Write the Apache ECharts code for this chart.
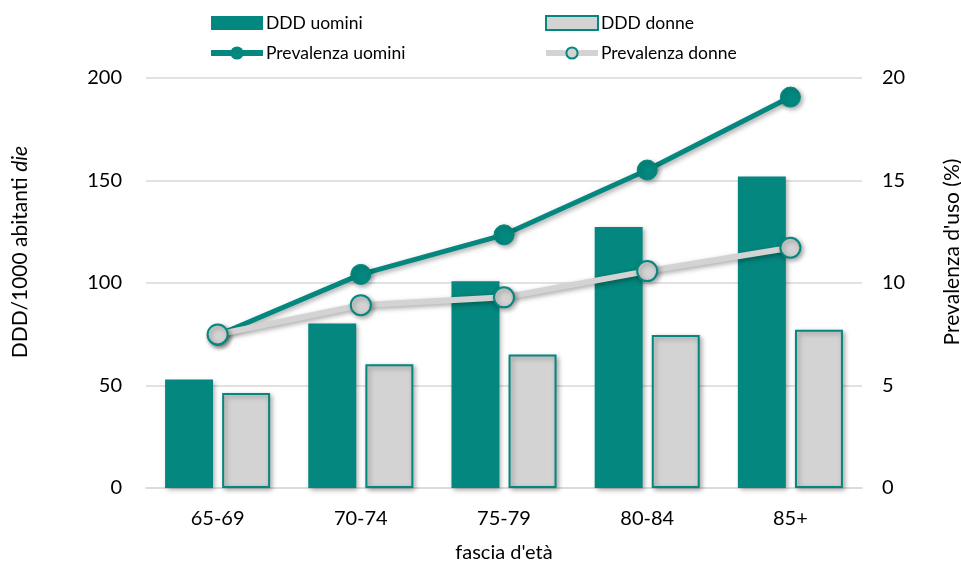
<!DOCTYPE html>
<html>
<head>
<meta charset="utf-8">
<script src="https://cdn.jsdelivr.net/npm/echarts@6/dist/echarts.min.js"></script>
<style>
  html, body { margin: 0; padding: 0; background: #fff; }
  #chart { width: 961px; height: 565px; }
</style>
</head>
<body>
<div id="chart"></div>
<script>
// Age groups
const categories = ['65-69', '70-74', '75-79', '80-84', '85+'];
// DDD per 1000 inhabitants per day
const dddUomini = [52.9, 80.3, 100.8, 127.3, 151.9];
const dddDonne = [46.4, 60.4, 65.1, 74.6, 77.2];
// Prevalence of use (%)
const prevUomini = [7.45, 10.42, 12.35, 15.51, 19.07];
const prevDonne = [7.49, 8.92, 9.30, 10.58, 11.72];
// Axis ticks
const leftTicks = { min: 0, max: 200, interval: 50 };
const rightTicks = { min: 0, max: 20, interval: 5 };

const TEAL = '#03877E';
const GREY = '#D3D3D3';
const FONT = 'Lato';
const shadow = { shadowColor: 'rgba(0,0,0,0.35)', shadowBlur: 5, shadowOffsetX: 2, shadowOffsetY: 2 };

const legendBase = {
  orient: 'vertical', top: 8, itemGap: 10,
  itemWidth: 52, itemHeight: 14,
  lineStyle: { width: 6 },
  textStyle: { fontFamily: FONT, fontSize: 17.5, lineHeight: 20, color: '#000', padding: [0, 0, 0, -2] }
};

const chart = echarts.init(document.getElementById('chart'), null, { renderer: 'canvas' });
chart.setOption({
  animation: false,
  textStyle: { fontFamily: FONT },
  grid: { left: 146, right: 99, top: 78, bottom: 77, containLabel: false, outerBoundsMode: 'none' },
  legend: [
    Object.assign({ data: [{ name: 'DDD uomini', icon: 'rect' }, 'Prevalenza uomini'], left: 203 }, legendBase),
    Object.assign({ data: [{ name: 'DDD donne', icon: 'rect' }, 'Prevalenza donne'], left: 538 }, legendBase)
  ],
  xAxis: {
    type: 'category',
    data: categories,
    name: "fascia d'età",
    nameLocation: 'middle',
    nameGap: 55,
    nameTextStyle: { fontFamily: FONT, fontSize: 20, color: '#000' },
    axisLine: { lineStyle: { color: '#D9D9D9', width: 1.5 } },
    axisTick: { show: false },
    axisLabel: { fontFamily: FONT, fontSize: 20, color: '#000', margin: 21 }
  },
  yAxis: [
    {
      type: 'value',
      min: leftTicks.min, max: leftTicks.max, interval: leftTicks.interval,
      name: '{n|DDD/1000 abitanti }{i|die}',
      nameLocation: 'middle',
      nameRotate: 90,
      nameGap: 115,
      nameTextStyle: {
        padding: [0, 0, 0, 62],
        rich: {
          n: { fontFamily: FONT, fontSize: 21, color: '#000' },
          i: { fontFamily: FONT, fontSize: 21, color: '#000', fontStyle: 'italic' }
        }
      },
      axisLine: { show: false },
      axisTick: { show: false },
      axisLabel: { fontFamily: FONT, fontSize: 20, color: '#000', margin: 24 },
      splitLine: { lineStyle: { color: '#D9D9D9', width: 1.5 } }
    },
    {
      type: 'value',
      position: 'right',
      min: rightTicks.min, max: rightTicks.max, interval: rightTicks.interval,
      name: "Prevalenza d'uso (%)",
      nameLocation: 'middle',
      nameRotate: 90,
      nameGap: 80,
      nameTextStyle: { fontFamily: FONT, fontSize: 21, color: '#000', padding: [0, 0, 0, 62] },
      axisLine: { show: false },
      axisTick: { show: false },
      axisLabel: { fontFamily: FONT, fontSize: 20, color: '#000', margin: 20 },
      splitLine: { show: false }
    }
  ],
  series: [
    {
      name: 'DDD uomini',
      type: 'bar',
      data: dddUomini,
      barWidth: '33.5%',
      barGap: '19%',
      itemStyle: Object.assign({ color: TEAL }, shadow)
    },
    {
      name: 'DDD donne',
      type: 'bar',
      data: dddDonne,
      barWidth: '33.5%',
      barGap: '19%',
      itemStyle: Object.assign({ color: GREY, borderColor: TEAL, borderWidth: 2 }, shadow)
    },
    {
      name: 'Prevalenza uomini',
      type: 'line',
      yAxisIndex: 1,
      data: prevUomini,
      symbol: 'circle',
      symbolSize: 20,
      z: 4,
      lineStyle: Object.assign({ color: TEAL, width: 5 }, shadow),
      itemStyle: Object.assign({ color: TEAL, borderColor: TEAL, borderWidth: 1 }, shadow)
    },
    {
      name: 'Prevalenza donne',
      type: 'line',
      yAxisIndex: 1,
      data: prevDonne,
      symbol: 'circle',
      symbolSize: 20,
      z: 5,
      lineStyle: Object.assign({ color: GREY, width: 6 }, shadow),
      itemStyle: Object.assign({ color: GREY, borderColor: TEAL, borderWidth: 2 }, shadow)
    }
  ]
});
</script>
</body>
</html>
